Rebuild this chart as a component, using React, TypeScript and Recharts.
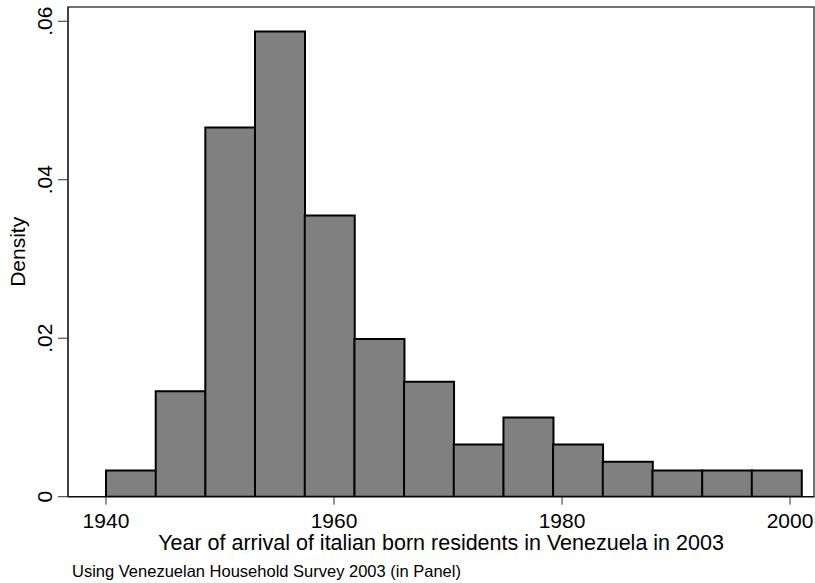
import React from "react";
import {
  ComposedChart,
  Bar,
  XAxis,
  YAxis,
  ReferenceArea,
} from "recharts";

// histogram bins (start year of each bin) and density heights
const binStarts = [
  1940, 1944.36, 1948.71, 1953.07, 1957.43, 1961.79, 1966.14, 1970.5,
  1974.86, 1979.21, 1983.57, 1987.93, 1992.29, 1996.64,
];
const binWidth = 4.357;
const densities = [
  0.0033, 0.0133, 0.0466, 0.0587, 0.0355, 0.0199, 0.0145, 0.0066, 0.01,
  0.0066, 0.0044, 0.0033, 0.0033, 0.0033,
];

const xTicks = [1940, 1960, 1980, 2000];
const yTicks = [0, 0.02, 0.04, 0.06];
const yTickLabels = ["0", ".02", ".04", ".06"];

const xTitle = "Year of arrival of italian born residents in Venezuela in 2003";
const yTitle = "Density";
const note = "Using Venezuelan Household Survey 2003 (in Panel)";

const X_DOMAIN: [number, number] = [1936.67, 2002.1];
const Y_DOMAIN: [number, number] = [0, 0.0618];

const FONT = "'Liberation Sans', Arial, Helvetica, sans-serif";

const data = binStarts.map((s, i) => ({
  mid: s + binWidth / 2,
  density: densities[i],
}));

function XTick(props: any) {
  const { x, y, payload } = props;
  return (
    <text x={x} y={y} dy="0.71em" textAnchor="middle" fontSize={21} fill="#000" fontFamily={FONT}>
      {payload.value}
    </text>
  );
}

function YTick(props: any) {
  const { x, y, payload } = props;
  const idx = yTicks.indexOf(payload.value);
  const label = idx >= 0 ? yTickLabels[idx] : String(payload.value);
  return (
    <text
      x={x}
      y={y}
      transform={`rotate(-90, ${x}, ${y})`}
      textAnchor="middle"
      fontSize={21}
      fill="#000"
      fontFamily={FONT}
    >
      {label}
    </text>
  );
}

function XLabel(props: any) {
  const vb = props.viewBox || {};
  return (
    <g fontFamily={FONT} fill="#000">
      <text x={vb.x + vb.width / 2} y={vb.y + 53} textAnchor="middle" fontSize={21.5}>
        {xTitle}
      </text>
      <text x={72} y={vb.y + 80} textAnchor="start" fontSize={16.5}>
        {note}
      </text>
    </g>
  );
}

function YLabel(props: any) {
  const vb = props.viewBox || {};
  const cy = vb.y + vb.height / 2;
  return (
    <text
      x={25}
      y={cy}
      transform={`rotate(-90, 25, ${cy})`}
      textAnchor="middle"
      fontSize={21}
      fill="#000"
      fontFamily={FONT}
    >
      {yTitle}
    </text>
  );
}

export default function App() {
  return (
    <div style={{ position: "absolute", left: 0, top: 0, width: 815, height: 583, background: "#fff" }}>
      <ComposedChart
        width={815}
        height={583}
        data={data}
        margin={{ top: 7, right: 1, left: 0, bottom: 0 }}
        barCategoryGap={0}
        barGap={0}
      >
        <XAxis
          dataKey="mid"
          type="number"
          domain={X_DOMAIN}
          ticks={xTicks}
          height={86.3}
          tickSize={8}
          tickMargin={8}
          tick={<XTick />}
          axisLine={{ stroke: "#000", strokeWidth: 1 }}
          tickLine={{ stroke: "#333" }}
          allowDataOverflow
          label={<XLabel />}
        />
        <YAxis
          type="number"
          domain={Y_DOMAIN}
          ticks={yTicks}
          width={68}
          tickSize={10}
          tickMargin={6}
          tick={<YTick />}
          axisLine={{ stroke: "#333", strokeWidth: 1.5 }}
          tickLine={{ stroke: "#333" }}
          allowDataOverflow
          label={<YLabel />}
        />
        <ReferenceArea
          x1={X_DOMAIN[0]}
          x2={X_DOMAIN[1]}
          y1={Y_DOMAIN[0]}
          y2={Y_DOMAIN[1]}
          fill="none"
          fillOpacity={0}
          stroke="#444"
          strokeWidth={1.5}
        />
        <Bar
          dataKey="density"
          fill="#808080"
          stroke="#000"
          strokeWidth={2}
          isAnimationActive={false}
        />
      </ComposedChart>
    </div>
  );
}
